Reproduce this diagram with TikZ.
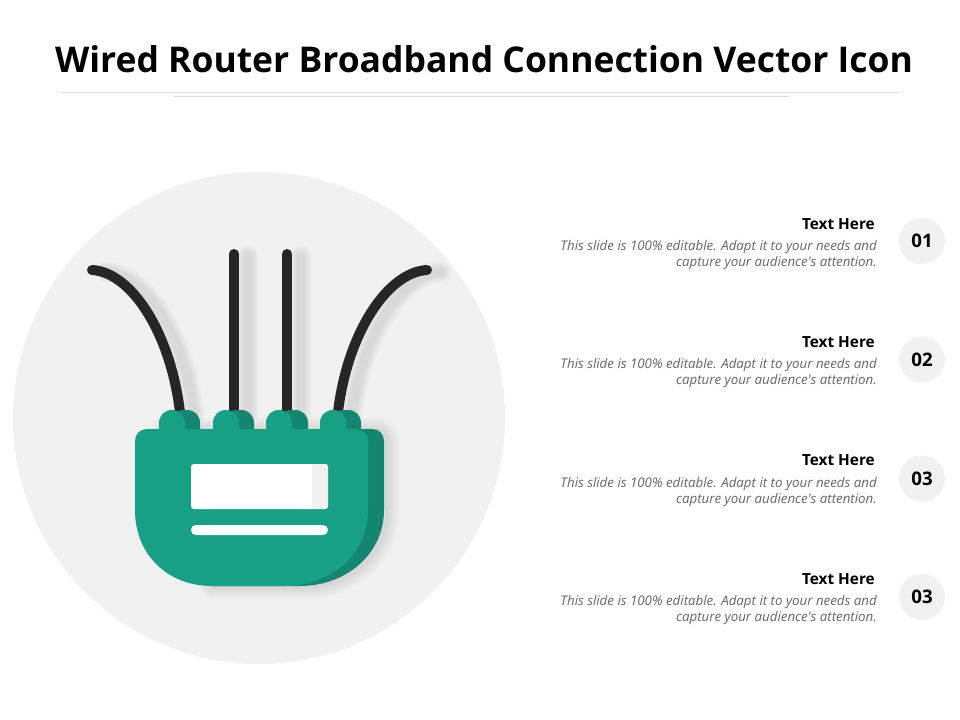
\documentclass[tikz,border=0pt]{standalone}
\usepackage{fontspec}
\setmainfont{Open Sans}[Ligatures=TeXOff]
\definecolor{teal1}{HTML}{18A085}
\definecolor{teal2}{HTML}{14866F}
\definecolor{wire}{HTML}{262626}
\definecolor{disc}{HTML}{F1F1F1}
\definecolor{rulec}{HTML}{DEDEDE}
\definecolor{desc}{HTML}{666666}
\tikzset{
  px/.style={line width=#1*0.75pt},
  wirepath/.style={draw=wire,px=10,line cap=round},
  head/.style={anchor=east,inner sep=0,font=\fontsize{11.5pt}{14pt}\selectfont\bfseries,text=black},
  body/.style={anchor=east,inner sep=0,font=\fontsize{9.98pt}{12pt}\selectfont\itshape,text=desc},
  numdisc/.style={circle,fill=disc,minimum size=34.5pt,inner sep=0,font=\fontsize{14pt}{16pt}\selectfont\bfseries,text=black},
  softshadow/.style={draw=black,draw opacity=0.012,line cap=round,line join=round}
}
\newcommand{\wireL}{(92,270) .. controls (130,272) and (170,330) .. (180,412)}
\newcommand{\wireR}{(427,270) .. controls (389,272) and (348,330) .. (338,412)}
\newcommand{\wireA}{(234,254) -- (234,412)}
\newcommand{\wireB}{(287,254) -- (287,412)}
\newcommand{\bodyDark}{(160,429) -- (372,429) .. controls (379,429) and (384,434) .. (384,441) -- (384,510) .. controls (384,555) and (345,586) .. (300,586) -- (210,586) -- cycle}
\newcommand{\tabshape}[2]{(#1,429) -- (#1,423) .. controls (#1,415.5) and ({#1+5.5},410) .. ({#1+13},410) -- ({#2-13},410) .. controls ({#2-5.5},410) and (#2,415.5) .. (#2,423) -- (#2,429) -- cycle}
\begin{document}
\begin{tikzpicture}[x=0.75pt,y=-0.75pt]
\useasboundingbox (0,0) rectangle (960,720);
\fill[white] (0,0) rectangle (960,720);
\node[inner sep=0,anchor=center,font=\fontsize{26.6pt}{32pt}\selectfont\bfseries] (title) at (484,59) {Wired Router Broadband Connection Vector Icon};
\draw[rulec,px=1] (61,93) -- (899,93);
\draw[rulec,px=1] (173,97) -- (789,97);
\fill[disc] (259,418) circle[radius=246];
% shadows
\begin{scope}[shift={(14,2)}]
\foreach \w in {22,20,18,16,14,12,10,8}{
  \path[softshadow,px=\w] \wireL;
  \path[softshadow,px=\w] \wireR;
  \path[softshadow,px=\w] \wireA;
  \path[softshadow,px=\w] \wireB;
}
\end{scope}
\begin{scope}[shift={(3,1)}]
\foreach \w in {26,23,20,17,14,11,8,5,2}{
  \path[softshadow,px=\w] \bodyDark;
}
\end{scope}
% wires
\draw[wirepath] \wireL;
\draw[wirepath] \wireR;
\draw[wirepath] \wireA;
\draw[wirepath] \wireB;
% tabs
\fill[teal2] \tabshape{170}{200};
\fill[teal2] \tabshape{224}{254};
\fill[teal2] \tabshape{278}{308};
\fill[teal2] \tabshape{331}{361};
\fill[teal1] \tabshape{159}{185};
\fill[teal1] \tabshape{213}{239};
\fill[teal1] \tabshape{266}{292};
\fill[teal1] \tabshape{320}{346};
% body
\fill[teal2] \bodyDark;
\fill[teal1] (135,441) .. controls (135,434) and (140,429) .. (147,429) -- (356,429) .. controls (363,429) and (368,434) .. (368,441) -- (368,510) .. controls (368,555) and (330,586) .. (285,586) -- (212,586) .. controls (168,586) and (135,555) .. (135,510) -- cycle;
% screen
\fill[white,rounded corners=2.2pt] (191,464) rectangle (328,509);
\begin{scope}
\clip[rounded corners=2.2pt] (191,464) rectangle (328,509);
\fill[disc] (312,464) rectangle (328,509);
\end{scope}
\fill[white,rounded corners=3.7pt] (191,525) rectangle (328,535);
% list
\foreach \n/\lab/\yc/\yh/\ya/\yb in {a/01/241/224.5/247/263.5,b/02/359.5/342.5/365/381.5,c/03/478.5/460.5/484/500.5,d/03/597/579.5/602/618.5}{
  \node[numdisc] (num\n) at (922,\yc) {\lab};
  \node[head] (head\n) at (875,\yh) {Text Here};
  \node[body] (linea\n) at (877,\ya) {This slide is 100\% editable. Adapt it to your needs and};
  \node[body] (lineb\n) at (877,\yb) {capture your audience's attention.};
}
\end{tikzpicture}
\end{document}
